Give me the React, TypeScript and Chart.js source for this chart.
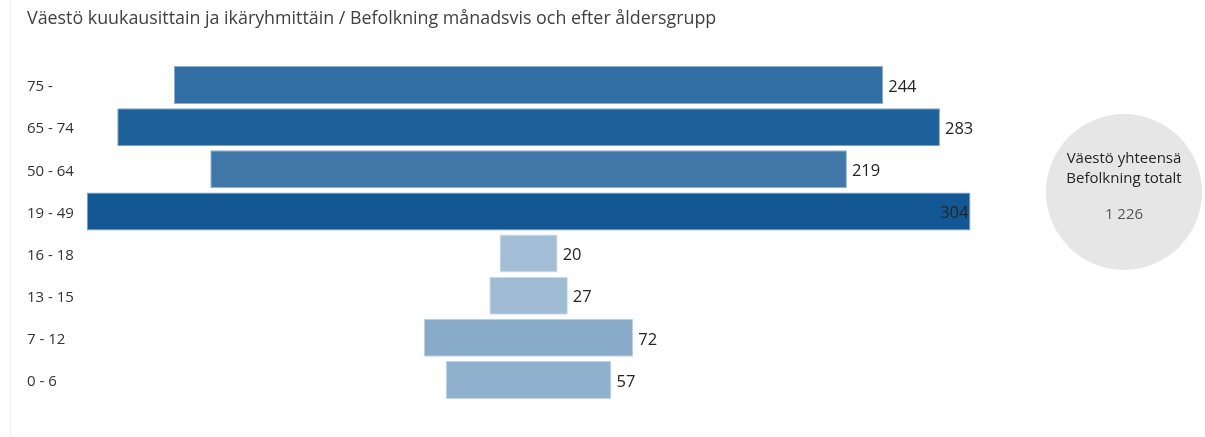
import React, { useEffect, useRef } from "react";
import { Chart, registerables } from "chart.js";

Chart.register(...registerables);

const titleText = "Väestö kuukausittain ja ikäryhmittäin / Befolkning månadsvis och efter åldersgrupp";
const ageGroups = ["75 -", "65 - 74", "50 - 64", "19 - 49", "16 - 18", "13 - 15", "7 - 12", "0 - 6"];
const population = [244, 283, 219, 304, 20, 27, 72, 57];
const totalLabelLines = ["Väestö yhteensä", "Befolkning totalt"];

const FONT = "'Open Sans', 'Noto Sans', sans-serif";
const DARK = [19, 88, 149];
const LIGHT = [163, 190, 214];

function shade(v: number, minV: number, maxV: number, mixWhite = 0) {
  const t = maxV === minV ? 1 : (v - minV) / (maxV - minV);
  const c = LIGHT.map((l, i) => l + (DARK[i] - l) * t).map((x) => x + (255 - x) * mixWhite);
  return `rgb(${c.map((x) => Math.round(x)).join(",")})`;
}

export default function App() {
  const ref = useRef<HTMLCanvasElement | null>(null);
  const total = population.reduce((a, b) => a + b, 0);
  const totalText = total.toLocaleString("fi-FI").replace(/\u00a0/g, " ");

  useEffect(() => {
    if (!ref.current) return;
    const minV = Math.min(...population);
    const maxV = Math.max(...population);
    const labelPlugin = {
      id: "valueLabels",
      afterDatasetsDraw(chart: any) {
        const ctx = chart.ctx;
        const meta = chart.getDatasetMeta(0);
        const yScale = chart.scales.y;
        ctx.save();
        ctx.textBaseline = "middle";
        // category labels
        ctx.font = `15px ${FONT}`;
        ctx.fillStyle = "#333333";
        ctx.textAlign = "left";
        ageGroups.forEach((g, i) => {
          ctx.fillText(g, yScale.left, yScale.getPixelForValue(i) + 2);
        });
        // value labels
        ctx.font = `16.5px ${FONT}`;
        meta.data.forEach((el: any, i: number) => {
          const txt = String(population[i]);
          const w = ctx.measureText(txt).width;
          const xEnd = el.x;
          ctx.fillStyle = "#252423";
          if (xEnd + 5 + w > chart.chartArea.right) {
            ctx.textAlign = "right";
            ctx.fillText(txt, xEnd - 2, el.y + 2);
          } else {
            ctx.textAlign = "left";
            ctx.fillText(txt, xEnd + 5, el.y + 2);
          }
        });
        ctx.restore();
      },
    };
    const chart = new Chart(ref.current, {
      type: "bar",
      data: {
        labels: ageGroups,
        datasets: [
          {
            data: population.map((v) => [-v / 2, v / 2]) as any,
            backgroundColor: population.map((v) => shade(v, minV, maxV)),
            borderColor: population.map((v) => shade(v, minV, maxV, 0.45)),
            borderWidth: 1,
            borderSkipped: false,
            barPercentage: 0.9,
            categoryPercentage: 1,
          },
        ],
      },
      options: {
        indexAxis: "y",
        animation: false,
        responsive: false,
        maintainAspectRatio: false,
        layout: { padding: { left: 27, right: 220, top: 64, bottom: 36 } },
        plugins: { legend: { display: false }, tooltip: { enabled: false }, title: { display: false } },
        scales: {
          x: { display: false, min: -155, max: 157, grid: { display: false } },
          y: {
            grid: { display: false, drawTicks: false },
            border: { display: false },
            ticks: { display: false },
            afterFit(scale: any) {
              scale.width = 51;
            },
          },
        },
      },
      plugins: [labelPlugin],
    } as any);
    return () => chart.destroy();
  }, []);

  return (
    <div style={{ position: "fixed", left: 0, top: 0, width: 1205, height: 437, background: "#fff", overflow: "hidden" }}>
      <div style={{ position: "absolute", left: 10, top: 0, width: 1, height: 437, background: "#f0f0f0" }} />
      <canvas ref={ref} width={1205} height={437} style={{ position: "absolute", left: 0, top: 0, width: 1205, height: 437 }} />
      <div
        style={{
          position: "absolute",
          left: 27,
          top: 5,
          fontFamily: FONT,
          fontSize: 17.85,
          color: "#404040",
          whiteSpace: "nowrap",
        }}
      >
        {titleText}
      </div>
      <div
        style={{
          position: "absolute",
          left: 1046,
          top: 114,
          width: 156,
          height: 156,
          borderRadius: "50%",
          background: "#e6e6e6",
          fontFamily: FONT,
          fontSize: 15,
          color: "#252423",
          textAlign: "center",
        }}
      >
        <div style={{ position: "absolute", left: 0, right: 0, top: 33, lineHeight: "20px" }}>
          {totalLabelLines.map((l) => (
            <div key={l}>{l}</div>
          ))}
        </div>
        <div style={{ position: "absolute", left: 0, right: 0, top: 89, lineHeight: "20px", color: "#555" }}>{totalText}</div>
      </div>
    </div>
  );
}
